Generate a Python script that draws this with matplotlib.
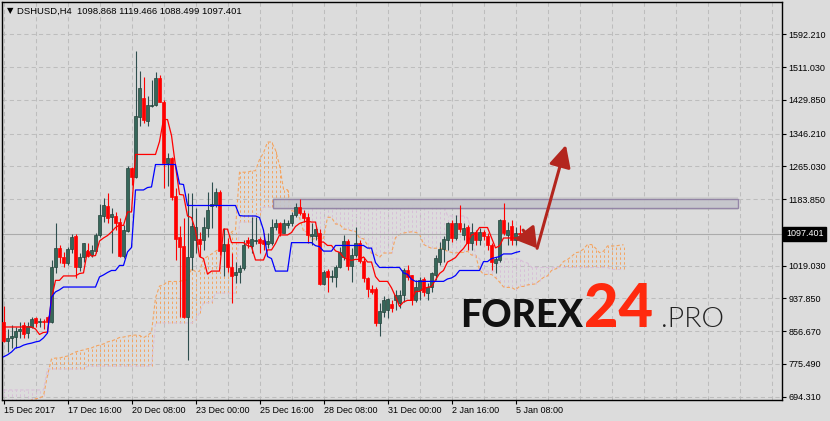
import numpy as np
import matplotlib
matplotlib.use("Agg")
import matplotlib.pyplot as plt
from matplotlib.patches import Rectangle, FancyArrowPatch
import matplotlib.transforms as mtransforms

plt.rcParams['font.family'] = ['Liberation Sans', 'DejaVu Sans']

# ---------------- data (DSHUSD, H4) ----------------
title_symbol = "DSHUSD,H4"
title_ohlc = "1098.868 1119.466 1088.499 1097.401"
last_price = 1097.401

opens = [879, 832, 840, 842, 857, 872, 852, 867, 889, 879,
         882, 892, 879, 1016, 1063, 1040, 1026, 1060, 1092, 1016,
         1040, 1055, 1045, 1055, 1095, 1142, 1167, 1140, 1142, 1127,
         1043, 1105, 1261, 1239, 1387, 1434, 1377, 1415, 1417, 1484,
         1425, 1273, 1286, 1192, 1090, 1068, 892, 1040, 1083, 1085,
         1083, 1112, 1167, 1169, 1202, 1055, 1073, 1016, 996, 1003,
         1013, 1083, 1068, 1080, 1085, 1083, 1073, 1075, 1115, 1125,
         1100, 1120, 1125, 1145, 1164, 1150, 1140, 1092, 1092, 1100,
         974, 1006, 991, 991, 1016, 1040, 1080, 1018, 1045, 1075,
         1031, 988, 961, 961, 877, 904, 909, 924, 934, 927,
         946, 1008, 996, 934, 959, 986, 951, 966, 996, 1028,
         1060, 1083, 1125, 1087, 1125, 1095, 1115, 1075, 1102, 1083,
         1102, 1092, 1070, 1026, 1033, 1132, 1095, 1117, 1083, 1098.868]
highs = [919, 862, 872, 867, 879, 879, 879, 892, 892, 889,
         887, 894, 1033, 1125, 1070, 1053, 1065, 1097, 1097, 1050,
         1075, 1075, 1070, 1100, 1172, 1187, 1199, 1162, 1152, 1137,
         1120, 1266, 1263, 1551, 1501, 1486, 1439, 1479, 1499, 1491,
         1429, 1298, 1288, 1211, 1117, 1137, 1199, 1199, 1162, 1102,
         1140, 1202, 1226, 1211, 1206, 1112, 1087, 1050, 1028, 1021,
         1083, 1090, 1140, 1140, 1090, 1100, 1100, 1135, 1135, 1127,
         1135, 1132, 1152, 1174, 1184, 1157, 1150, 1125, 1115, 1110,
         1008, 1011, 1008, 1021, 1065, 1095, 1085, 1063, 1115, 1083,
         1040, 991, 971, 966, 927, 944, 939, 934, 959, 959,
         1013, 1021, 996, 983, 991, 991, 976, 1003, 1045, 1077,
         1092, 1127, 1132, 1144, 1169, 1125, 1120, 1125, 1107, 1112,
         1107, 1100, 1075, 1040, 1135, 1174, 1127, 1132, 1115, 1119.466]
lows = [830, 805, 815, 815, 840, 840, 840, 865, 867, 867,
        862, 874, 877, 1001, 1026, 1016, 1021, 1050, 988, 1006,
        1028, 1040, 1040, 1050, 1090, 1127, 1125, 1050, 1107, 1040,
        1038, 1102, 1219, 1236, 1365, 1372, 1365, 1412, 1415, 1425,
        1211, 1216, 1182, 1033, 892, 889, 785, 1008, 1050, 1040,
        1058, 1090, 1112, 1164, 1045, 993, 1003, 926, 976, 976,
        1008, 1063, 1050, 1073, 1050, 1058, 1063, 1070, 1107, 1092,
        1100, 1112, 1117, 1140, 1145, 1127, 1075, 1070, 1083, 971,
        971, 954, 979, 966, 1013, 1033, 1008, 979, 1040, 1026,
        979, 941, 949, 869, 845, 892, 889, 904, 909, 914,
        929, 983, 922, 929, 934, 944, 934, 954, 983, 1021,
        1028, 1058, 1078, 1083, 1102, 1083, 1058, 1058, 1070, 1070,
        1083, 1058, 1008, 1001, 1028, 1095, 1070, 1070, 1070, 1088.499]
closes = [832, 840, 845, 857, 862, 850, 870, 887, 877, 882,
          879, 879, 1016, 1063, 1040, 1026, 1060, 1090, 1016, 1040,
          1075, 1043, 1058, 1095, 1145, 1169, 1137, 1147, 1125, 1043,
          1107, 1261, 1239, 1390, 1459, 1380, 1417, 1417, 1484, 1425,
          1273, 1286, 1189, 1085, 1065, 892, 1040, 1117, 1115, 1073,
          1115, 1157, 1172, 1202, 1055, 1073, 1016, 993, 1003, 1013,
          1070, 1075, 1085, 1083, 1075, 1073, 1080, 1115, 1125, 1100,
          1125, 1125, 1145, 1164, 1150, 1137, 1095, 1097, 1110, 974,
          1003, 991, 993, 1016, 1053, 1080, 1018, 1045, 1075, 1031,
          988, 961, 954, 877, 907, 934, 936, 914, 946, 946,
          1008, 991, 934, 966, 983, 954, 966, 1001, 1038, 1060,
          1085, 1125, 1087, 1125, 1110, 1112, 1075, 1102, 1083, 1102,
          1092, 1070, 1028, 1035, 1132, 1100, 1107, 1083, 1100, 1097.401]

# Ichimoku values at the left edge (history before the visible bars)
tenkan_early = [867, 867, 867, 867, 867, 867, 867, 867]
kijun_early = [793, 798, 805, 815, 817, 822, 825, 827, 830, 832, 840, 852, 941,
               954, 959, 966, 966, 966, 966, 966, 966, 966, 966, 966, 991]
span_a_early = [671, 671, 671, 671, 671, 671, 679, 686, 689, 691, 696, 748, 788,
                790, 790, 793, 795, 800, 805, 808, 810, 813, 815, 820, 822, 825]
span_b_early = ([711] * 11 + [763] * 10 + [770] * 17 + [877] * 10 + [884, 902]
                + [927] * 3 + [951] * 6 + [1127] * 4 + [1145] * 2 + [1164] * 12)

xtick_bars = [0, 16, 32, 48, 64, 80, 96, 112, 128]
xtick_labels = ["15 Dec 2017", "17 Dec 16:00", "20 Dec 08:00", "23 Dec 00:00",
                "25 Dec 16:00", "28 Dec 08:00", "31 Dec 00:00", "2 Jan 16:00",
                "5 Jan 08:00"]
ytick_vals = [694.310, 775.490, 856.670, 937.850, 1019.030, 1183.850,
              1265.030, 1346.210, 1429.850, 1511.030, 1592.210]

# drawn objects (bar index, price)
zone_bars = [67.3, 183.55]
zone_prices = [1163.0, 1183.4]
arrow_small = [(129.9, 1107), (133.4, 1062)]
arrow_big = [(133.4, 1062), (140.6, 1318)]

# ---------------- computation ----------------
O = np.array(opens, float); H = np.array(highs, float)
L = np.array(lows, float); C = np.array(closes, float)
n = len(O)
idx = np.arange(n)


def mid(end, period):
    s = slice(end - period + 1, end + 1)
    return (H[s].max() + L[s].min()) / 2


tenkan = np.array(tenkan_early + [mid(i, 9) for i in range(8, n)])
kijun = np.array(kijun_early + [mid(i, 26) for i in range(25, n)])
m = n + 26
span_a = np.array(span_a_early + [(tenkan[j - 26] + kijun[j - 26]) / 2 for j in range(26, m)])
span_b = np.array(span_b_early + [mid(j - 26, 52) for j in range(77, m)])
jj = np.arange(m)

# ---------------- figure ----------------
BG = '#DCDCDC'
fig = plt.figure(figsize=(8.3, 4.21), dpi=100)
fig.patch.set_facecolor(BG)
ax = fig.add_axes([2 / 830, 21 / 421, 780 / 830, 398 / 421])
ax.set_facecolor(BG)
ax.set_xlim(-0.375, 194.625)
ax.set_ylim(686.1, 1672.2)

grid_kw = dict(color='#BDBDBD', lw=0.75, ls=(0, (4, 3)), zorder=0.5)
for xg in range(0, 195, 8):
    ax.axvline(xg, **grid_kw)
for yg in ytick_vals:
    ax.axhline(yg, **grid_kw)

# cloud hatch
up = span_a >= span_b
hcol = np.where(up, '#F4A460', '#D8BFD8')
ax.vlines(jj, np.minimum(span_a, span_b), np.maximum(span_a, span_b),
          colors=hcol, linestyles=(0, (2.5, 2.5)), lw=0.7, zorder=1)
ax.plot(jj, span_a, color='#F4A460', lw=0.8, ls=(0, (3, 2)), zorder=1.2)
ax.plot(jj, span_b, color='#D8BFD8', lw=0.8, ls=(0, (3, 2)), zorder=1.2)

# resistance zone
ax.add_patch(Rectangle((zone_bars[0], zone_prices[0] - 6), zone_bars[1] - zone_bars[0],
                       zone_prices[1] - zone_prices[0] + 12, fc='#909090', ec='none',
                       alpha=0.18, zorder=1.4))
ax.add_patch(Rectangle((zone_bars[0], zone_prices[0]), zone_bars[1] - zone_bars[0],
                       zone_prices[1] - zone_prices[0], fc='#C6C6CC', ec='#8E7EA2',
                       lw=1.0, alpha=0.9, zorder=1.5))

# bid line
ax.axhline(last_price, color='#ABABAB', lw=0.8, zorder=1.6)

# candles
bull = C >= O
wick_c = np.where(bull, '#2F4F4F', '#FF0000')
ax.vlines(idx, L, H, colors=wick_c, lw=0.8, zorder=3)
body_h = np.maximum(np.abs(C - O), 1.5)
ax.bar(idx[bull], body_h[bull], bottom=np.minimum(O, C)[bull], width=0.62,
       color='#36675A', edgecolor='#23423A', lw=0.5, zorder=3.2)
ax.bar(idx[~bull], body_h[~bull], bottom=np.minimum(O, C)[~bull], width=0.62,
       color='#FF0000', edgecolor='#FF0000', lw=0.5, zorder=3.2)

# Tenkan / Kijun
ax.plot(idx, tenkan, color='#FF0000', lw=0.9, zorder=4)
ax.plot(idx, kijun, color='#0000FF', lw=0.9, zorder=4)

# arrows
acol = '#B3261E'
ax.add_patch(FancyArrowPatch(arrow_big[0], arrow_big[1],
                             arrowstyle='-|>,head_length=1.1,head_width=0.55',
                             mutation_scale=12, color=acol, lw=2.2, zorder=6,
                             shrinkA=0, shrinkB=0))
ax.add_patch(FancyArrowPatch(arrow_small[0], arrow_small[1],
                             arrowstyle='-|>,head_length=1.0,head_width=0.6',
                             mutation_scale=12, color=acol, lw=2.2, zorder=6,
                             shrinkA=0, shrinkB=0))

# axes styling
for s in ax.spines.values():
    s.set_color('black'); s.set_linewidth(1.0)
ax.yaxis.tick_right()
ax.set_yticks(ytick_vals)
ax.set_yticklabels([f"{v:.3f}" for v in ytick_vals])
ax.set_xticks(xtick_bars)
ax.set_xticklabels(xtick_labels)
for lbl in ax.get_xticklabels():
    lbl.set_horizontalalignment('left')
ax.tick_params(axis='y', direction='out', length=3, width=0.8, labelsize=6.5,
               pad=1.5, colors='black')
ax.tick_params(axis='x', direction='out', length=3, width=0.8, labelsize=6.5,
               pad=1.5, colors='black')

# last price box
tr = mtransforms.blended_transform_factory(ax.transAxes, ax.transData)
ax.text(1 + 4 / 780, last_price, f"{last_price:.3f}", transform=tr, ha='left',
        va='center', fontsize=6.5, color='white', zorder=10, clip_on=False,
        bbox=dict(boxstyle='square,pad=0.3', fc='black', ec='black'))

# title
fig.text(7 / 830, 1 - 11 / 421, "\u25BC", fontsize=6, va='center', ha='left',
         family=['DejaVu Sans'])
fig.text(17 / 830, 1 - 11 / 421, f"{title_symbol}  {title_ohlc}", fontsize=6.8,
         va='center', ha='left')

# watermark
fig.text(460 / 830, 1 - 327 / 421, "FOREX", fontsize=27, family=['Lato', 'DejaVu Sans'],
         weight=900, color='#111111', va='baseline', ha='left', zorder=20)
fig.text(584 / 830, 1 - 327 / 421, "24", fontsize=43, family=['Lato', 'DejaVu Sans'],
         weight=900, color='#FF2A0E', va='baseline', ha='left', zorder=20)
fig.text(661 / 830, 1 - 327 / 421, ".PRO", fontsize=20.5, family=['Lato', 'DejaVu Sans'],
         weight=300, color='#222222', va='baseline', ha='left', zorder=20)

fig.savefig("out.png", dpi=100, facecolor=BG)
